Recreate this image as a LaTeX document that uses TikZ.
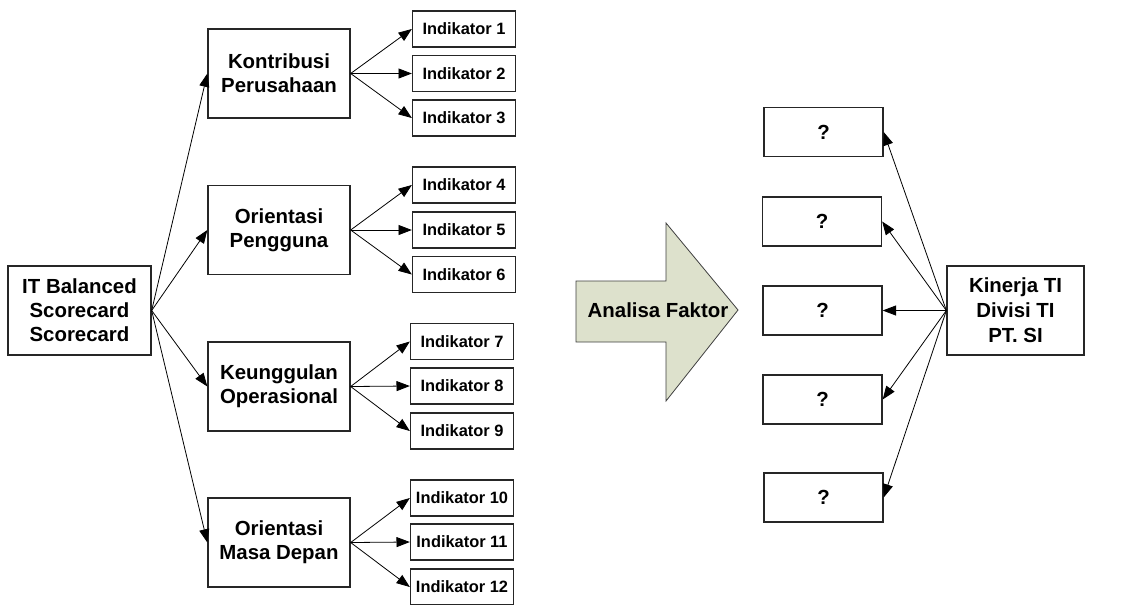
\documentclass[tikz,border=0pt]{standalone}
\usepackage{fontspec}
\setmainfont{Liberation Sans}
\usetikzlibrary{arrows.meta}
\definecolor{arrowfill}{RGB}{221,225,204}
\begin{document}
\begin{tikzpicture}[x=0.75pt,y=-0.75pt,
  box/.style={draw=black!85,line width=1pt,fill=white,align=center,inner sep=1pt},
  catbox/.style={box,minimum width=106.5pt,minimum height=66.75pt,font=\fontsize{15.3}{18}\selectfont\bfseries},
  indbox/.style={box,minimum width=77.25pt,minimum height=27pt,font=\fontsize{12.3}{14}\selectfont\bfseries},
  qbox/.style={box,minimum width=89.25pt,minimum height=36.75pt,font=\fontsize{15.3}{18}\selectfont\bfseries},
  conn/.style={draw=black,line width=0.6pt,-{Triangle[length=10pt,width=7.5pt]}}]
\useasboundingbox (0,0) rectangle (1126,604);
\fill[white] (0,0) rectangle (1126,604);

% left root
\node[catbox,minimum width=107.25pt] (it) at (79.5,310.5) {IT Balanced\\Scorecard\\Scorecard};

% categories
\node[catbox] (k1) at (279,73.5) {Kontribusi\\Perusahaan};
\node[catbox] (k2) at (279,230) {Orientasi\\Pengguna};
\node[catbox] (k3) at (279,386.5) {Keunggulan\\Operasional};
\node[catbox] (k4) at (279,542.5) {Orientasi\\Masa Depan};

% indicators
\node[indbox] (i1) at (464,29) {Indikator 1};
\node[indbox] (i2) at (464,73.5) {Indikator 2};
\node[indbox] (i3) at (464,118) {Indikator 3};
\node[indbox] (i4) at (464,185) {Indikator 4};
\node[indbox] (i5) at (464,230) {Indikator 5};
\node[indbox] (i6) at (464,274.5) {Indikator 6};
\node[indbox] (i7) at (462,341.5) {Indikator 7};
\node[indbox] (i8) at (462,386) {Indikator 8};
\node[indbox] (i9) at (462,431) {Indikator 9};
\node[indbox] (i10) at (462,498) {Indikator 10};
\node[indbox] (i11) at (462,542) {Indikator 11};
\node[indbox] (i12) at (462,587) {Indikator 12};

\foreach \s in {k1,k2,k3,k4} \draw[conn] (it.east) -- (\s.west);
\foreach \t in {1,2,3} \draw[conn] (k1.east) -- (i\t.west);
\foreach \t in {4,5,6} \draw[conn] (k2.east) -- (i\t.west);
\foreach \t in {7,8,9} \draw[conn] (k3.east) -- (i\t.west);
\foreach \t in {10,11,12} \draw[conn] (k4.east) -- (i\t.west);

% big arrow
\draw[draw=black!75,line width=0.6pt,fill=arrowfill] (576,281) -- (666,281) -- (666,223) -- (738,310) -- (666,401) -- (666,342) -- (576,342) -- cycle;
\node[font=\fontsize{15.3}{18}\selectfont\bfseries] (af) at (658,310) {Analisa Faktor};

% question boxes
\node[qbox] (q1) at (823.5,132) {?};
\node[qbox] (q2) at (822,221.5) {?};
\node[qbox] (q3) at (822.5,310.5) {?};
\node[qbox] (q4) at (822.5,399.5) {?};
\node[qbox] (q5) at (823.5,497.5) {?};

\node[catbox,minimum width=102.75pt,font=\fontsize{15.3}{18.75}\selectfont\bfseries] (kin) at (1015.5,310.5) {Kinerja TI\\Divisi TI\\PT. SI};

\foreach \q in {q1,q2,q3,q4,q5} \draw[conn] (kin.west) -- (\q.east);
\end{tikzpicture}
\end{document}
